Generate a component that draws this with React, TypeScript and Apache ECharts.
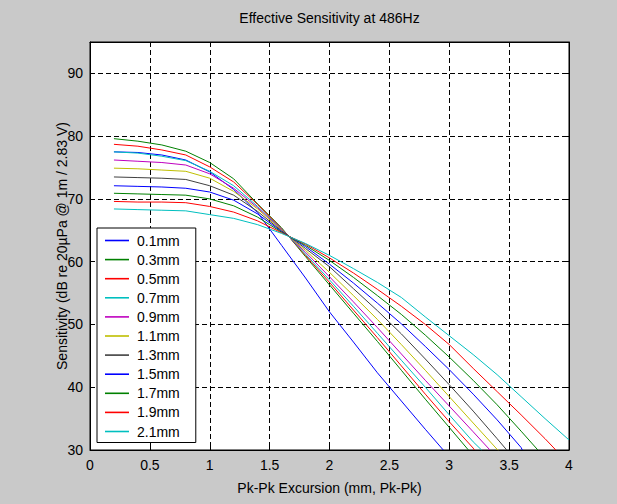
import React, { useEffect, useRef } from "react";
import * as echarts from "echarts";

// Pk-Pk excursion grid (mm)
const excursion = [0.2, 0.4, 0.6, 0.8, 1.0, 1.2, 1.4, 1.6, 1.8, 2.0, 2.2, 2.4, 2.6, 2.8, 3.0, 3.2, 3.4, 3.6, 3.8, 4.0];

// Sensitivity values (dB) per Xmax curve, sampled on the excursion grid
const s01 = [77.5, 77.4, 77.0, 76.2, 74.3, 71.5, 67.8, 62.6, 57.4, 52.0, 47.2, 42.3, 37.8, 33.3];
const s03 = [79.6, 79.2, 78.6, 77.6, 75.8, 73.2, 69.2, 65.4, 60.8, 56.3, 51.8, 47.3, 42.7, 38.1, 33.6];
const s05 = [78.7, 78.4, 77.8, 77.0, 75.1, 72.7, 69.1, 65.3, 61.0, 56.7, 52.3, 47.9, 43.4, 38.9, 34.5, 30.3];
const s07 = [77.5, 77.3, 76.8, 76.1, 74.4, 72.1, 68.8, 65.2, 61.2, 57.1, 52.9, 48.6, 44.3, 40.0, 35.6, 31.3];
const s09 = [76.2, 76.0, 75.8, 75.4, 74.0, 71.7, 68.6, 65.1, 61.5, 57.6, 53.6, 49.5, 45.3, 41.1, 37.0, 32.9];
const s11 = [74.9, 74.8, 74.6, 74.4, 73.3, 71.2, 68.4, 65.0, 61.8, 58.3, 54.6, 50.8, 46.8, 42.7, 38.5, 34.3, 30.1];
const s13 = [73.5, 73.4, 73.3, 73.1, 72.1, 70.6, 68.0, 64.9, 62.1, 59.2, 55.7, 52.2, 48.5, 44.5, 40.4, 36.2, 31.8];
const s15 = [72.1, 72.0, 71.9, 71.7, 71.1, 69.8, 67.6, 64.8, 62.4, 59.6, 56.6, 53.4, 50.1, 46.5, 42.8, 38.9, 34.8, 30.4];
const s17 = [70.9, 70.8, 70.7, 70.6, 70.0, 68.9, 67.1, 64.7, 62.6, 60.2, 57.5, 54.6, 51.6, 48.3, 44.8, 41.1, 37.2, 33.0];
const s19 = [69.6, 69.5, 69.5, 69.4, 68.8, 67.9, 66.5, 64.6, 62.8, 60.6, 58.2, 55.6, 52.9, 50.0, 46.8, 43.0, 39.3, 35.6, 31.8];
const s21 = [68.4, 68.3, 68.2, 68.1, 67.5, 66.9, 65.9, 64.5, 62.9, 61.0, 58.9, 56.7, 54.3, 51.2, 48.2, 45.2, 42.0, 38.5, 35.0, 31.6];

const curveNames = ["0.1mm", "0.3mm", "0.5mm", "0.7mm", "0.9mm", "1.1mm", "1.3mm", "1.5mm", "1.7mm", "1.9mm", "2.1mm"];
const curveValues = [s01, s03, s05, s07, s09, s11, s13, s15, s17, s19, s21];
// excursion at which each curve reaches the 30 dB floor (null = stays above)
const curveEnds = [2.95, 3.16, 3.21, 3.27, 3.34, 3.41, 3.48, 3.61, 3.74, 3.89, null];
const floorLevel = 30;

const curveColors = [
  "#0000ff", "#008000", "#ff0000", "#00bfbf", "#bf00bf", "#bfbf00", "#404040",
  "#0000ff", "#008000", "#ff0000", "#00bfbf",
];

const FONT = "'Liberation Sans', Arial, Helvetica, sans-serif";

function buildData(values: number[], end: number | null) {
  const pts: number[][] = values.map((v, i) => [excursion[i], v]);
  if (end !== null) pts.push([end, floorLevel]);
  return pts;
}

export default function App() {
  const ref = useRef<HTMLDivElement>(null);

  useEffect(() => {
    if (!ref.current) return;
    const chart = echarts.init(ref.current, undefined, { renderer: "svg" });

    const gridLine = { show: true, lineStyle: { color: "#000", width: 1, type: [5, 3] as any } };
    const axisLine = { show: true, onZero: false, lineStyle: { color: "#000", width: 1 } };
    const tick = { show: true, inside: true, length: 5, lineStyle: { color: "#000", width: 1 } };
    const label = { color: "#000", fontSize: 14, fontFamily: FONT };

    chart.setOption({
      animation: false,
      backgroundColor: "#c9c9c9",
      grid: {
        left: 90,
        right: 48,
        top: 42,
        bottom: 54,
        show: true,
        backgroundColor: "#ffffff",
        borderColor: "#000",
        borderWidth: 1,
      },
      xAxis: [
        {
          type: "value",
          min: 0,
          max: 4,
          interval: 0.5,
          axisLine,
          axisTick: tick,
          axisLabel: { ...label, margin: 8 },
          splitLine: gridLine,
        },
        {
          type: "value",
          position: "top",
          min: 0,
          max: 4,
          interval: 0.5,
          axisLine,
          axisTick: tick,
          axisLabel: { show: false },
          splitLine: { show: false },
        },
      ],
      yAxis: [
        {
          type: "value",
          min: 30,
          max: 95,
          interval: 10,
          axisLine,
          axisTick: tick,
          axisLabel: { ...label, margin: 7, showMaxLabel: false },
          splitLine: gridLine,
        },
        {
          type: "value",
          position: "right",
          min: 30,
          max: 95,
          interval: 10,
          axisLine,
          axisTick: tick,
          axisLabel: { show: false },
          splitLine: { show: false },
        },
      ],
      legend: {
        orient: "vertical",
        left: 97,
        top: 228,
        icon: "path://M0,0 L24,0 L24,1.6 L0,1.6 Z",
        symbolKeepAspect: true,
        itemWidth: 24,
        itemHeight: 14,
        itemGap: 5.1,
        padding: [5.5, 16, 4, 8],
        backgroundColor: "#ffffff",
        borderColor: "#000",
        borderWidth: 1,
        borderRadius: 0,
        selectedMode: false,
        textStyle: { color: "#000", fontSize: 14, fontFamily: FONT, padding: [0, 0, 0, 3] },
        data: curveNames,
      },
      graphic: [
        {
          type: "text",
          x: 329.5,
          y: 18,
          style: {
            text: "Effective Sensitivity at 486Hz",
            fill: "#000",
            font: `14px ${FONT}`,
            textAlign: "center",
            textVerticalAlign: "middle",
          },
        },
        {
          type: "text",
          x: 329.5,
          y: 488,
          style: {
            text: "Pk-Pk Excursion (mm, Pk-Pk)",
            fill: "#000",
            font: `14px ${FONT}`,
            textAlign: "center",
            textVerticalAlign: "middle",
          },
        },
        {
          type: "text",
          x: 62,
          y: 246,
          rotation: Math.PI / 2,
          style: {
            text: "Sensitivity (dB re 20µPa @ 1m / 2.83 V)",
            fill: "#000",
            font: `14px ${FONT}`,
            textAlign: "center",
            textVerticalAlign: "middle",
          },
        },
      ],
      series: curveNames.map((name, i) => ({
        name,
        type: "line",
        xAxisIndex: 0,
        yAxisIndex: 0,
        symbol: "none",
        showSymbol: false,
        smooth: false,
        silent: true,
        clip: true,
        lineStyle: { width: 1, color: curveColors[i] },
        itemStyle: { color: curveColors[i] },
        data: buildData(curveValues[i], curveEnds[i]),
      })),
    });

    return () => chart.dispose();
  }, []);

  return (
    <div
      ref={ref}
      style={{ position: "absolute", left: 0, top: 0, width: 617, height: 504 }}
    />
  );
}
